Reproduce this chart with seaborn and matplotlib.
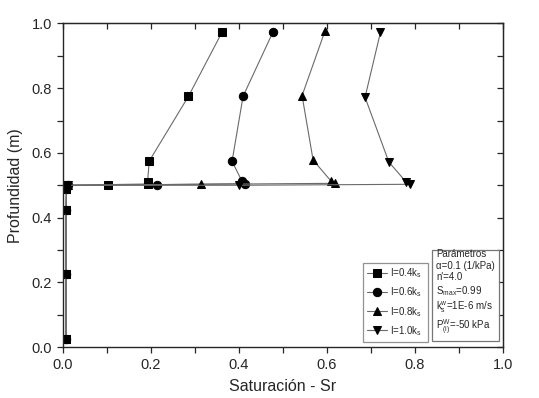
import numpy as np
import pandas as pd
import seaborn as sns
import matplotlib.pyplot as plt
from matplotlib.ticker import MultipleLocator

### Data
# Depth (m) of every node for each curve, Sr at that node
depth_04 = [0.025, 0.225, 0.425, 0.49, 0.50, 0.502, 0.504, 0.51, 0.575, 0.775, 0.975]
sr_04 = [0.008, 0.008, 0.008, 0.009, 0.011, 0.104, 0.195, 0.193, 0.197, 0.286, 0.363]

depth_06 = [0.025, 0.225, 0.425, 0.49, 0.50, 0.502, 0.505, 0.514, 0.574, 0.775, 0.974]
sr_06 = [0.008, 0.008, 0.008, 0.009, 0.012, 0.214, 0.415, 0.407, 0.385, 0.410, 0.478]

depth_08 = [0.025, 0.225, 0.425, 0.49, 0.50, 0.503, 0.506, 0.514, 0.578, 0.777, 0.977]
sr_08 = [0.008, 0.008, 0.008, 0.009, 0.012, 0.315, 0.618, 0.609, 0.569, 0.544, 0.596]

depth_10 = [0.025, 0.225, 0.425, 0.49, 0.50, 0.50, 0.503, 0.509, 0.572, 0.772, 0.973]
sr_10 = [0.008, 0.008, 0.008, 0.009, 0.012, 0.400, 0.789, 0.781, 0.741, 0.687, 0.722]

labels = ["I=0.4k$_s$", "I=0.6k$_s$", "I=0.8k$_s$", "I=1.0k$_s$"]
markers = ["s", "o", "^", "v"]

params_text = ("Parámetros\n"
               "α=0.1 (1/kPa)\n"
               "n'=4.0\n"
               "S$_{max}$=0.99\n"
               "k$^{w}_{s}$=1E-6 m/s\n"
               "P$^{W}_{(i)}$=-50 kPa")

series = [(sr_04, depth_04), (sr_06, depth_06), (sr_08, depth_08), (sr_10, depth_10)]

### Plot
sns.set_style("ticks")
plt.rcParams['font.family'] = ['Liberation Sans', 'DejaVu Sans']
plt.rcParams['mathtext.fontset'] = 'custom'
plt.rcParams['mathtext.rm'] = 'Liberation Sans'
plt.rcParams['mathtext.it'] = 'Liberation Sans'

fig = plt.figure(figsize=(5.39, 3.98), dpi=100)
ax = fig.add_axes([0.116, 0.128, 0.817, 0.813])

for (sr, depth), lab, mk in zip(series, labels, markers):
    df = pd.DataFrame({"Sr": sr, "depth": depth})
    sns.lineplot(data=df, x="Sr", y="depth", sort=False, estimator=None,
                 color="#6a6a6a", linewidth=0.8, marker=mk, markersize=6,
                 markerfacecolor="k", markeredgecolor="k", label=lab, ax=ax)

ax.set_xlim(0, 1.0)
ax.set_ylim(0, 1.0)
ax.xaxis.set_major_locator(MultipleLocator(0.2))
ax.xaxis.set_minor_locator(MultipleLocator(0.1))
ax.yaxis.set_major_locator(MultipleLocator(0.2))
ax.yaxis.set_minor_locator(MultipleLocator(0.1))
ax.tick_params(which="both", direction="out", length=4, width=0.9,
               top=False, right=False, labelsize=10.5)
ax.tick_params(axis="x", pad=4)

# mirrored inward ticks on top/right
sec_x = ax.secondary_xaxis("top")
sec_x.xaxis.set_major_locator(MultipleLocator(0.1))
sec_x.tick_params(direction="in", length=4, width=0.9, labeltop=False)
sec_y = ax.secondary_yaxis("right")
sec_y.yaxis.set_major_locator(MultipleLocator(0.1))
sec_y.tick_params(direction="in", length=4, width=0.9, labelright=False)
for s in ax.spines.values():
    s.set_linewidth(1.0)

ax.set_xlabel("Saturación - Sr", fontsize=11.5, labelpad=5)
ax.set_ylabel("Profundidad (m)", fontsize=11.5, labelpad=6)

leg = ax.legend(loc="lower left", bbox_to_anchor=(0.683, 0.017, 0.147, 0.194),
                mode="expand", fontsize=7, frameon=True, fancybox=False,
                handlelength=2.0, handletextpad=0.3, borderpad=0.4,
                labelspacing=0.55, borderaxespad=0)
leg.get_frame().set_edgecolor("#777777")
leg.get_frame().set_linewidth(0.9)

ax.text(0.848, 0.03, params_text, transform=ax.transAxes, fontsize=7,
        va="bottom", ha="left", linespacing=1.2,
        bbox=dict(boxstyle="square,pad=0.4", fc="white", ec="#777777", lw=0.9))

plt.savefig("out.png", dpi=100)
